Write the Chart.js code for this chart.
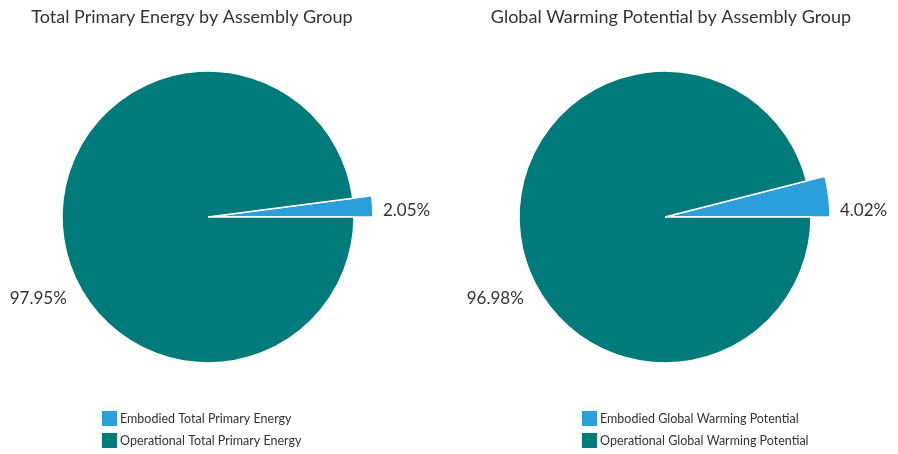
<!DOCTYPE html>
<html>
<head>
<meta charset="utf-8">
<script src="https://cdn.jsdelivr.net/npm/chart.js@4.4.0/dist/chart.umd.min.js"></script>
<style>
  html, body { margin: 0; padding: 0; background: #fff; width: 898px; height: 454px; overflow: hidden; }
  .panel { position: absolute; top: 0; width: 449px; height: 454px; }
</style>
</head>
<body>
<div class="panel" style="left:0"><canvas id="energy" width="449" height="454"></canvas></div>
<div class="panel" style="left:449px"><canvas id="gwp" width="449" height="454"></canvas></div>
<script>
// Share of embodied vs operational impact, in percent
const energyTitle = 'Total Primary Energy by Assembly Group';
const energyLabels = ['Embodied Total Primary Energy', 'Operational Total Primary Energy'];
const energyValues = [2.05, 97.95];

const gwpTitle = 'Global Warming Potential by Assembly Group';
const gwpLabels = ['Embodied Global Warming Potential', 'Operational Global Warming Potential'];
const gwpValues = [4.02, 96.98];

const sliceColors = ['#2a9fdc', '#007a7a'];
const textColor = '#333333';
const fontFamily = 'Lato, "Open Sans", sans-serif';

const fmt = v => v.toFixed(2) + '%';

// Draws the title, the value labels and the legend, and pulls the
// embodied slice out past the rim of the pie.
const pieDecor = {
  id: 'pieDecor',
  beforeDatasetsDraw(chart, args, opts) {
    const arcs = chart.getDatasetMeta(0).data;
    arcs.forEach((arc, i) => {
      arc.outerRadius = opts.radius + (i === 0 ? opts.pullOut : 0);
    });
  },
  afterDraw(chart, args, opts) {
    const ctx = chart.ctx;
    const arcs = chart.getDatasetMeta(0).data;
    const values = chart.data.datasets[0].data;
    const labels = chart.data.labels;
    const colors = chart.data.datasets[0].backgroundColor;
    ctx.save();
    ctx.fillStyle = textColor;

    // title
    ctx.font = '18px ' + fontFamily;
    ctx.textAlign = 'center';
    ctx.textBaseline = 'middle';
    ctx.fillText(opts.title, opts.titleX, 17);

    // value labels
    ctx.font = '17px ' + fontFamily;
    const em = arcs[0];
    ctx.textAlign = 'left';
    ctx.fillText(fmt(values[0]), em.x + em.outerRadius + 10, em.y - 6);
    const op = arcs[1];
    const a = Math.PI * 150 / 180;
    ctx.textAlign = 'right';
    ctx.fillText(fmt(values[1]), op.x + Math.cos(a) * opts.labelR, op.y + Math.sin(a) * opts.labelR);

    // legend
    ctx.font = '12.5px ' + fontFamily;
    ctx.textAlign = 'left';
    labels.forEach((lab, i) => {
      const y = 411 + i * 22;
      ctx.fillStyle = colors[i];
      ctx.fillRect(opts.legendX, y, 15, 15);
      ctx.fillStyle = textColor;
      ctx.fillText(lab, opts.legendX + 18, y + 8);
    });
    ctx.restore();
  }
};

function makePie(id, title, labels, values, layout) {
  const total = values.reduce((s, v) => s + v, 0);
  return new Chart(document.getElementById(id), {
    type: 'pie',
    data: {
      labels: labels,
      datasets: [{
        data: values,
        backgroundColor: sliceColors,
        borderColor: '#ffffff',
        borderWidth: 1.5
      }]
    },
    options: {
      responsive: false,
      animation: false,
      rotation: 90 - values[0] / total * 360,
      layout: { padding: layout.padding },
      plugins: {
        legend: { display: false },
        title: { display: false },
        tooltip: { enabled: false },
        pieDecor: {
          title: title,
          titleX: layout.titleX,
          legendX: layout.legendX,
          radius: 146,
          pullOut: 19,
          labelR: 163
        }
      }
    },
    plugins: [pieDecor]
  });
}

makePie('energy', energyTitle, energyLabels, energyValues, {
  padding: { left: 62, right: 95, top: 71, bottom: 91 },
  titleX: 192,
  legendX: 102
});

makePie('gwp', gwpTitle, gwpLabels, gwpValues, {
  padding: { left: 70, right: 87, top: 71, bottom: 91 },
  titleX: 222,
  legendX: 133
});
</script>
</body>
</html>
